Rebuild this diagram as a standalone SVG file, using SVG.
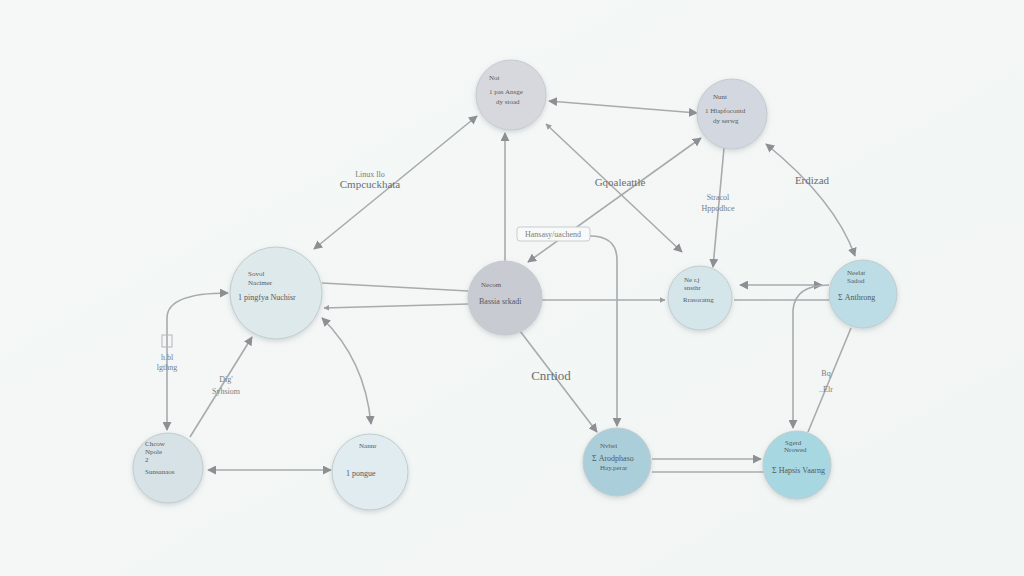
<svg xmlns="http://www.w3.org/2000/svg" width="1024" height="576" viewBox="0 0 1024 576">
<defs>
<linearGradient id="bg" x1="0" y1="0" x2="1" y2="1">
<stop offset="0" stop-color="#f5f8f7"/>
<stop offset="1" stop-color="#f1f5f4"/>
</linearGradient>
<filter id="sh" x="-30%" y="-30%" width="160%" height="160%">
<feDropShadow dx="0" dy="2" stdDeviation="2.5" flood-color="#7a8a90" flood-opacity="0.3"/>
</filter>
<marker id="ah" viewBox="0 0 10 10" refX="9" refY="5" markerWidth="9" markerHeight="9" orient="auto-start-reverse" markerUnits="userSpaceOnUse">
<path d="M0,0 L10,5 L0,10 Z" fill="#8d8f93"/>
</marker>
<marker id="as" viewBox="0 0 10 10" refX="9" refY="5" markerWidth="6" markerHeight="6" orient="auto-start-reverse" markerUnits="userSpaceOnUse">
<path d="M0,0 L10,5 L0,10 Z" fill="#9a9ca0"/>
</marker>
<style>
.n{stroke:#c4cbcf;stroke-width:1;filter:url(#sh)}
.t{font-family:"Liberation Serif",serif;fill:#55595e}
.s{font-size:7px}
.m{font-size:8px}
.c{stroke:#a8abae;stroke-width:1.6;fill:none}
.l{font-family:"Liberation Serif",serif;fill:#6b6e72;font-size:11px;text-anchor:middle}
.ls{font-family:"Liberation Serif",serif;fill:#7a7d80;font-size:8px;text-anchor:middle}
</style>
</defs>
<rect width="1024" height="576" fill="url(#bg)"/>

<g id="connectors">
<line class="c" x1="314" y1="249" x2="477" y2="116" marker-start="url(#ah)" marker-end="url(#ah)"/>
<line class="c" x1="505" y1="262" x2="505" y2="133" marker-end="url(#ah)"/>
<line class="c" x1="549" y1="101" x2="697" y2="113" marker-start="url(#ah)" marker-end="url(#ah)"/>
<line class="c" x1="546" y1="124" x2="682" y2="252" marker-start="url(#as)" marker-end="url(#ah)"/>
<line class="c" x1="528" y1="262" x2="701" y2="138" marker-start="url(#ah)" marker-end="url(#ah)"/>
<line class="c" x1="724" y1="148" x2="713" y2="267" marker-end="url(#ah)"/>
<path class="c" d="M766,144 Q835,200 855,256" marker-start="url(#ah)" marker-end="url(#ah)"/>
<path class="c" d="M590,236 Q617,236 617,260 L617,426" marker-end="url(#ah)"/>
<line class="c" x1="542" y1="300" x2="665" y2="300" marker-end="url(#as)"/>
<line class="c" x1="322" y1="283" x2="468" y2="291"/>
<line class="c" x1="468" y1="304" x2="324" y2="308" marker-end="url(#as)"/>
<line class="c" x1="740" y1="285" x2="822" y2="285" marker-start="url(#ah)" marker-end="url(#ah)"/>
<line class="c" x1="734" y1="300" x2="829" y2="300"/>
<path class="c" d="M829,285 Q795,285 793,310 L793,428" marker-end="url(#ah)"/>
<line class="c" x1="808" y1="432" x2="851" y2="328"/>
<line class="c" x1="520" y1="331" x2="597" y2="432" marker-end="url(#ah)"/>
<line class="c" x1="652" y1="459" x2="761" y2="459" marker-end="url(#ah)"/>
<line class="c" x1="652" y1="472" x2="764" y2="472"/>
<line class="c" x1="208" y1="470" x2="331" y2="470" marker-start="url(#ah)" marker-end="url(#ah)"/>
<line class="c" x1="190" y1="437" x2="252" y2="337" marker-end="url(#ah)"/>
<path class="c" d="M167,430 L167,318 Q167,293 228,293" marker-start="url(#ah)" marker-end="url(#ah)"/>
<path class="c" d="M322,318 Q365,360 371,424" marker-start="url(#ah)" marker-end="url(#ah)"/>
<rect x="517" y="227" width="73" height="14" rx="3" fill="#f8faf9" stroke="#c9cccf" stroke-width="1"/>
<text class="ls" x="553" y="237">Hansasy/uachend</text>
<text class="ls" x="370" y="177">Linux llo</text>
<text class="l" x="370" y="188">Cmpcuckhata</text>
<text class="l" x="620" y="186">Gqoaleattle</text>
<text class="ls" x="718" y="200">Stracol</text>
<text class="ls" x="718" y="211">Hppodhce</text>
<text class="l" x="812" y="184">Erdizad</text>
<text class="l" x="551" y="380" style="font-size:13px">Cnrtiod</text>
<text class="ls" x="167" y="360">h.bl</text>
<text class="ls" x="167" y="370">lgthng</text>
<rect x="162" y="335" width="10" height="12" fill="none" stroke="#b4b7ba" stroke-width="1"/>
<text class="ls" x="226" y="382">Dig'</text>
<text class="ls" x="226" y="394">Syhsiom</text>
<text class="ls" x="826" y="376">Bq</text>
<text class="ls" x="826" y="392">..Elr</text>
</g>

<g id="node-1">
<circle class="n" cx="511" cy="95" r="35" fill="#d7d8dd"/>
<text class="t s" x="489" y="80">Not</text>
<text class="t s" x="489" y="94">1  pas Ansge</text>
<text class="t s" x="496" y="104">dy stoad</text>
</g>
<g id="node-2">
<circle class="n" cx="732" cy="114" r="35" fill="#d3d7df"/>
<text class="t s" x="713" y="99">Nunt</text>
<text class="t s" x="705" y="113">1  Hlapfocontd</text>
<text class="t s" x="713" y="123">dy serwg</text>
</g>
<g id="node-3">
<circle class="n" cx="276" cy="293" r="46" fill="#dee9ec"/>
<text class="t s" x="248" y="276">Sovol</text>
<text class="t s" x="248" y="285">Nacimer</text>
<text class="t m" x="238" y="300">1  pingfya Nuchisr</text>
</g>
<g id="node-4">
<circle class="n" cx="505" cy="298" r="37" fill="#c9cbd2"/>
<text class="t s" x="481" y="287">Necom</text>
<text class="t m" x="479" y="304">Bassia srkadi</text>
</g>
<g id="node-5">
<circle class="n" cx="700" cy="298" r="32" fill="#d5e6eb"/>
<text class="t s" x="684" y="282">Ne r.j</text>
<text class="t s" x="684" y="290">snsthr</text>
<text class="t s" x="683" y="302">Rrasoratng</text>
</g>
<g id="node-6">
<circle class="n" cx="863" cy="294" r="34" fill="#bcdde5"/>
<text class="t s" x="847" y="275">Neelat</text>
<text class="t s" x="847" y="283">Sadod</text>
<text class="t m" x="838" y="300">Σ Anthrong</text>
</g>
<g id="node-7">
<circle class="n" cx="168" cy="468" r="35" fill="#d6e2e6"/>
<text class="t s" x="145" y="446">Chcow</text>
<text class="t s" x="145" y="454">Npole</text>
<text class="t s" x="145" y="462">2</text>
<text class="t s" x="145" y="474">Sunsanaos</text>
</g>
<g id="node-8">
<circle class="n" cx="370" cy="472" r="38" fill="#e0ecef"/>
<text class="t s" x="359" y="448">Nannr</text>
<text class="t m" x="346" y="476">1  pongue</text>
</g>
<g id="node-9">
<circle class="n" cx="617" cy="462" r="34" fill="#aacfdb"/>
<text class="t s" x="600" y="448">Nvbei</text>
<text class="t m" x="592" y="461">Σ Arodphaso</text>
<text class="t s" x="600" y="470">Hay.perar</text>
</g>
<g id="node-10">
<circle class="n" cx="797" cy="465" r="34" fill="#a7d7e0"/>
<text class="t s" x="785" y="445">Sgerd</text>
<text class="t s" x="784" y="452">Nrowed</text>
<text class="t m" x="772" y="473">Σ Hapsis Vaarng</text>
</g>
</svg>
